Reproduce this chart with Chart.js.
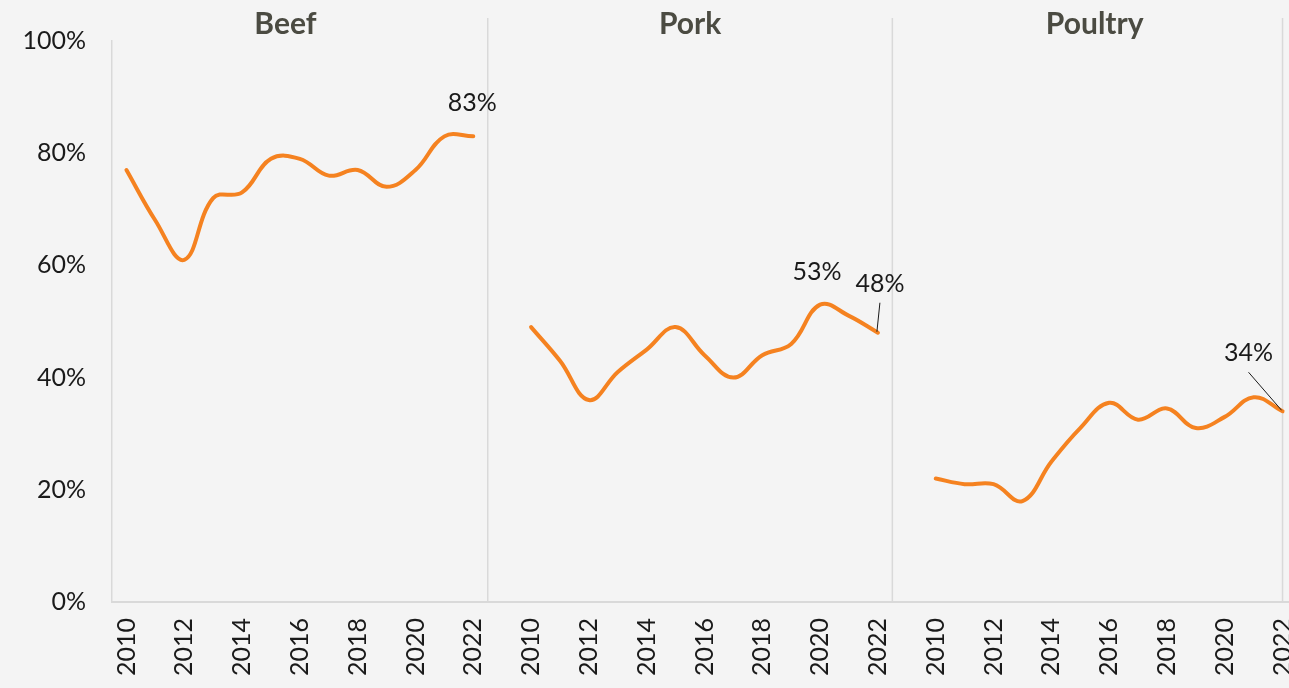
<!DOCTYPE html>
<html>
<head>
<meta charset="utf-8">
<script src="https://cdn.jsdelivr.net/npm/chart.js@4.4.0/dist/chart.umd.min.js"></script>
<style>
    html, body { margin: 0; padding: 0; background: #f4f4f4; overflow: hidden; }
    #wrap { width: 1300px; height: 688px; }
</style>
</head>
<body>
<div id="wrap"><canvas id="meatShareChart"></canvas></div>
<script>
// Data
const years = ['2010', '2011', '2012', '2013', '2014', '2015', '2016', '2017', '2018', '2019', '2020', '2021', '2022'];
const panelNames = ['Beef', 'Pork', 'Poultry'];
const beefShare = [77, 68, 61, 72, 73, 79, 79, 76, 77, 74, 77, 83, 83];
const porkShare = [49, 43, 36, 41, 45, 49, 44, 40, 44, 46, 53, 51, 48];
const poultryShare = [22, 21, 21, 18, 25, 31, 35.5, 32.5, 34.5, 31, 33, 36.5, 34];
const yTickValues = [0, 20, 40, 60, 80, 100];

// Labelled points: panel, year, text
const callouts = [
    { panel: 0, year: '2022', text: '83%', dx: -1, dy: -33, leader: false },
    { panel: 1, year: '2020', text: '53%', dx: -3, dy: -33, leader: false },
    { panel: 1, year: '2022', text: '48%', dx: 2, dy: -49, leader: true },
    { panel: 2, year: '2022', text: '34%', dx: -34, dy: -58, leader: true }
];

const FONT = 'Lato, "Open Sans", sans-serif';
const ORANGE = '#f58220';
const RULE = '#d9d9d9';

// one category axis with a blank slot between panels
const labels = [];
const values = [];
const panelStart = [];
[beefShare, porkShare, poultryShare].forEach(function (series, p) {
    if (p > 0) { labels.push(''); values.push(null); }
    panelStart.push(labels.length);
    years.forEach(function (y, i) { labels.push(y); values.push(series[i]); });
});

const panelDecor = {
    id: 'panelDecor',
    beforeDatasetsDraw(chart) {
        const ctx = chart.ctx;
        const x = chart.scales.x;
        const area = chart.chartArea;
        const step = x.getPixelForValue(1) - x.getPixelForValue(0);
        ctx.save();
        ctx.strokeStyle = RULE;
        ctx.lineWidth = 1.5;
        panelStart.forEach(function (start, p) {
            const last = start + years.length - 1;
            const px = p < panelStart.length - 1 ? x.getPixelForValue(last) + step / 2 : x.getPixelForValue(last);
            ctx.beginPath();
            ctx.moveTo(px, 18);
            ctx.lineTo(px, area.bottom);
            ctx.stroke();
        });
        // panel titles
        ctx.fillStyle = '#4b4b42';
        ctx.font = 'bold 30px ' + FONT;
        ctx.textAlign = 'center';
        ctx.textBaseline = 'middle';
        panelStart.forEach(function (start, p) {
            const cx = (x.getPixelForValue(start + 5) + x.getPixelForValue(start + 6)) / 2;
            ctx.fillText(panelNames[p], cx, 24);
        });
        ctx.restore();
    },
    afterDatasetsDraw(chart) {
        const ctx = chart.ctx;
        const meta = chart.getDatasetMeta(0);
        ctx.save();
        ctx.fillStyle = '#1a1a1a';
        ctx.strokeStyle = '#1a1a1a';
        ctx.lineWidth = 1;
        ctx.font = '25px ' + FONT;
        ctx.textAlign = 'center';
        ctx.textBaseline = 'middle';
        callouts.forEach(function (c) {
            const pt = meta.data[panelStart[c.panel] + years.indexOf(c.year)];
            const tx = pt.x + c.dx;
            const ty = pt.y + c.dy;
            if (c.leader) {
                ctx.beginPath();
                ctx.moveTo(tx, ty + 19);
                ctx.lineTo(pt.x - 1, pt.y - 1);
                ctx.stroke();
            }
            ctx.fillText(c.text, tx, ty);
        });
        ctx.restore();
    }
};

const ctxMeat = document.getElementById('meatShareChart').getContext('2d');
new Chart(ctxMeat, {
    type: 'line',
    data: {
        labels: labels,
        datasets: [{
            label: 'Share',
            data: values,
            borderColor: ORANGE,
            borderWidth: 4,
            borderCapStyle: 'round',
            pointRadius: 0,
            tension: 0.4,
            spanGaps: false
        }]
    },
    options: {
        responsive: true,
        maintainAspectRatio: false,
        animation: false,
        layout: { padding: { top: 41, right: 3, left: 0, bottom: 0 } },
        plugins: {
            legend: { display: false },
            tooltip: { enabled: false }
        },
        scales: {
            x: {
                type: 'category',
                offset: true,
                grid: { color: 'transparent', drawTicks: false },
                border: { color: RULE, width: 2 },
                ticks: {
                    autoSkip: false,
                    minRotation: 90,
                    maxRotation: 90,
                    padding: 16,
                    color: '#1a1a1a',
                    font: { family: FONT, size: 25 },
                    callback: function (v) {
                        const l = this.getLabelForValue(v);
                        return l && (+l) % 2 === 0 ? l : null;
                    }
                },
                afterFit: function (s) { s.height = 86; s.paddingLeft = 0; s.paddingRight = 0; }
            },
            y: {
                min: 0,
                max: 100,
                afterBuildTicks: function (s) { s.ticks = yTickValues.map(function (v) { return { value: v }; }); },
                grid: { color: 'transparent', drawTicks: false },
                border: { color: RULE, width: 1.5 },
                ticks: {
                    padding: 26,
                    color: '#1a1a1a',
                    font: { family: FONT, size: 25 },
                    callback: function (v) { return v + '%'; }
                },
                afterFit: function (s) { s.width = 112; }
            }
        }
    },
    plugins: [panelDecor]
});
</script>
</body>
</html>
